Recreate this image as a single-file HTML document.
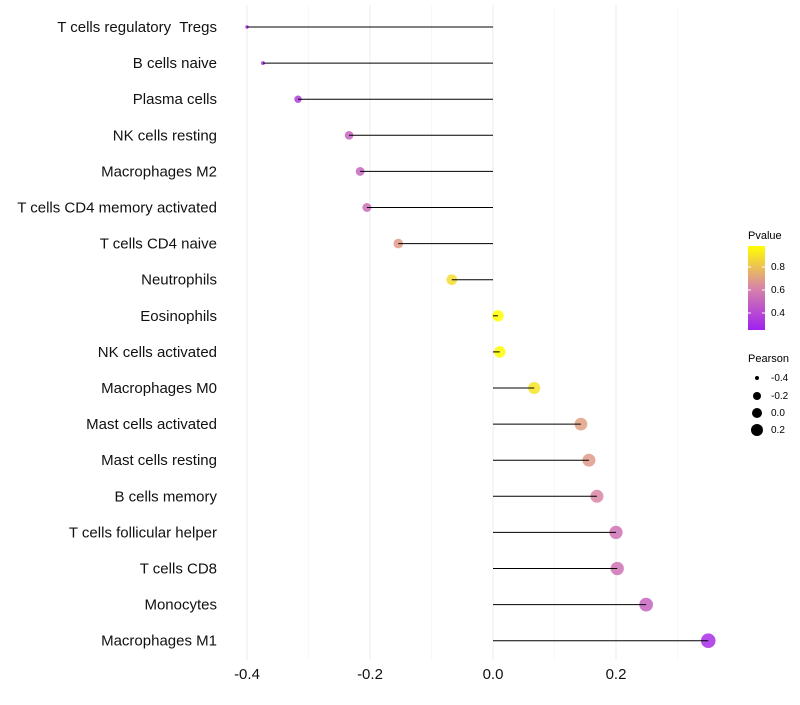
<!DOCTYPE html>
<html><head><meta charset="utf-8"><style>
body{margin:0;background:#fff;font-family:"Liberation Sans",sans-serif}
</style></head><body>
<svg id="chart" width="800" height="700">
<defs><linearGradient id="pg" x1="0" y1="1" x2="0" y2="0">
<stop offset="0" stop-color="#a020f0"/><stop offset="0.5" stop-color="#d884a8"/><stop offset="1" stop-color="#ffff00"/>
</linearGradient></defs>
<g id="grid"></g><g id="marks"></g><g id="labels"></g>
<g font-size="10">
<text x="748" y="239" font-size="11">Pvalue</text>
<rect x="748" y="246" width="17" height="84" fill="url(#pg)"/>
<line x1="748" x2="751" y1="267" y2="267" stroke="#fff"/><line x1="762" x2="765" y1="267" y2="267" stroke="#fff"/>
<line x1="748" x2="751" y1="290" y2="290" stroke="#fff"/><line x1="762" x2="765" y1="290" y2="290" stroke="#fff"/>
<line x1="748" x2="751" y1="313" y2="313" stroke="#fff"/><line x1="762" x2="765" y1="313" y2="313" stroke="#fff"/>
<text x="771" y="270">0.8</text><text x="771" y="293">0.6</text><text x="771" y="316">0.4</text>
</g>
<g font-size="10">
<text x="748" y="362" font-size="11">Pearson</text>
<circle cx="757" cy="378" r="2"/><text x="771" y="381">-0.4</text>
<circle cx="757" cy="396" r="4"/><text x="771" y="399">-0.2</text>
<circle cx="757" cy="413" r="5"/><text x="771" y="416">0.0</text>
<circle cx="757" cy="430" r="6"/><text x="771" y="433">0.2</text>
</g>
</svg>
<script>
const categories=["T cells regulatory  Tregs","B cells naive","Plasma cells","NK cells resting","Macrophages M2","T cells CD4 memory activated","T cells CD4 naive","Neutrophils","Eosinophils","NK cells activated","Macrophages M0","Mast cells activated","Mast cells resting","B cells memory","T cells follicular helper","T cells CD8","Monocytes","Macrophages M1"];
const pearson=[-0.40,-0.374,-0.317,-0.234,-0.216,-0.205,-0.154,-0.067,0.008,0.011,0.067,0.143,0.156,0.169,0.200,0.202,0.249,0.350];
const pvalue=[0.27,0.30,0.35,0.50,0.50,0.53,0.68,0.88,0.98,0.97,0.90,0.70,0.68,0.62,0.55,0.55,0.50,0.30];
const xTicks=[-0.4,-0.2,0.0,0.2];
const xMinor=[-0.3,-0.1,0.1,0.3];
const NS="http://www.w3.org/2000/svg";
const x=v=>493+v*615;
const y=i=>27+i*36.1;
const r=p=>Math.sqrt(Math.max(3,32.4+59*p-150*Math.max(0,-0.33-p)));
function lerp(a,b,t){return a.map((c,k)=>Math.round(c+(b[k]-c)*t));}
function col(p){const t=Math.max(0,Math.min(1,(p-0.25)/0.73));
 const c0=[160,32,240],c1=[216,132,168],c2=[255,255,0];
 const c=t<0.5?lerp(c0,c1,t/0.5):lerp(c1,c2,(t-0.5)/0.5);return `rgb(${c})`;}
function mk(tag,attrs,parent){const e=document.createElementNS(NS,tag);for(const k in attrs)e.setAttribute(k,attrs[k]);document.getElementById(parent).appendChild(e);return e;}
xMinor.forEach(v=>{const l=mk('line',{x1:x(v),x2:x(v),y1:5,y2:660,stroke:'#f3f3f3','stroke-width':0.6},'grid');

});
xTicks.forEach(v=>{const l=mk('line',{x1:x(v),x2:x(v),y1:5,y2:660,stroke:'#ebebeb','stroke-width':1},'grid');


const t=mk('text',{x:x(v),y:679,'text-anchor':'middle','font-size':15,fill:'#111'},'labels');t.textContent=v.toFixed(1);

});
categories.forEach((c,i)=>{
 const d=mk('circle',{cx:x(pearson[i]),cy:y(i),r:r(pearson[i]),fill:col(pvalue[i]),'fill-opacity':0.85},'marks');
 
 
 const l=mk('line',{x1:x(0),x2:x(pearson[i]),y1:y(i),y2:y(i),stroke:'#000','stroke-width':1},'marks');
 
 
 const t=mk('text',{x:217,y:y(i)+5,'text-anchor':'end','font-size':15,fill:'#111'},'labels');t.textContent=c;
 t.setAttribute('xml:space','preserve');t.style.whiteSpace='pre';
 
 
});
</script>
</body></html>
